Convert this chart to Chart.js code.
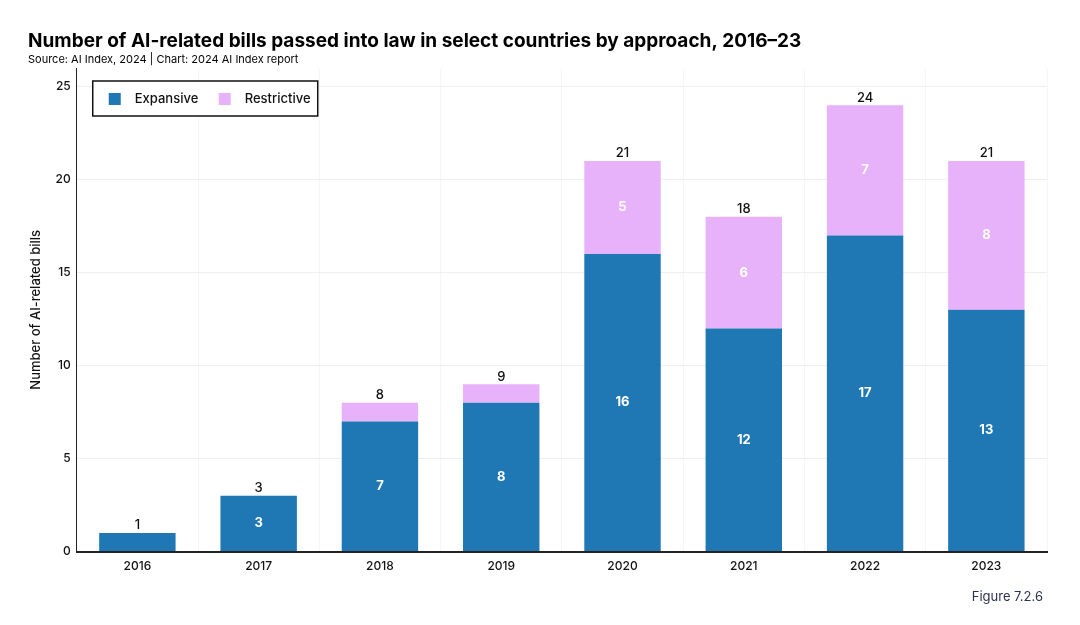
<!DOCTYPE html>
<html>
<head>
<meta charset="utf-8">
<script src="https://cdn.jsdelivr.net/npm/chart.js@4"></script>
<style>
  body { margin: 0; background: #fff; }
  #wrap { width: 1080px; height: 625px; position: relative; }
</style>
</head>
<body>
<div id="wrap"><canvas id="billsChart"></canvas></div>
<script>
const years = ["2016", "2017", "2018", "2019", "2020", "2021", "2022", "2023"];
const expansive = [1, 3, 7, 8, 16, 12, 17, 13];
const restrictive = [0, 0, 1, 1, 5, 6, 7, 8];
const yTicks = [0, 5, 10, 15, 20, 25];

const FONT = "Inter, 'Noto Sans', sans-serif";
const BLUE = "#1f77b4";
const PINK = "#e8b2fb";

// labels inside bars + totals on top
const barLabels = {
  id: 'barLabels',
  afterDatasetsDraw(chart) {
    const ctx = chart.ctx;
    ctx.save();
    ctx.textAlign = 'center';
    ctx.textBaseline = 'middle';
    chart.data.datasets.forEach((ds, i) => {
      chart.getDatasetMeta(i).data.forEach((bar, j) => {
        const v = ds.data[j];
        if (v < 2) return;
        ctx.fillStyle = '#fff';
        ctx.font = "bold 13px " + FONT;
        ctx.fillText(v, bar.x, (bar.y + bar.base) / 2);
      });
    });
    const top = chart.getDatasetMeta(1).data;
    years.forEach((y, j) => {
      const total = expansive[j] + restrictive[j];
      const yPix = chart.scales.y.getPixelForValue(total);
      ctx.fillStyle = '#111';
      ctx.font = "500 13px " + FONT;
      ctx.textBaseline = 'bottom';
      ctx.fillText(total, top[j].x, yPix - 1);
    });
    ctx.restore();
  }
};

// boxed legend and figure note
const boxLegend = {
  id: 'boxLegend',
  afterDraw(chart) {
    const ctx = chart.ctx;
    const a = chart.chartArea;
    const x = a.left + 16, y = a.top + 13;
    ctx.save();
    ctx.fillStyle = '#fff';
    ctx.fillRect(x, y, 225, 35);
    ctx.strokeStyle = '#111';
    ctx.lineWidth = 1.5;
    ctx.strokeRect(x, y, 225, 35);
    ctx.font = "500 13px " + FONT;
    ctx.textBaseline = 'middle';
    ctx.fillStyle = BLUE;
    ctx.fillRect(x + 16, y + 12, 12, 12);
    ctx.fillStyle = '#111';
    ctx.fillText("Expansive", x + 42, y + 18);
    ctx.fillStyle = PINK;
    ctx.fillRect(x + 126, y + 12, 12, 12);
    ctx.fillStyle = '#111';
    ctx.fillText("Restrictive", x + 152, y + 18);

    ctx.fillStyle = '#2a3350';
    ctx.font = "13px " + FONT;
    ctx.textAlign = 'right';
    ctx.fillText("Figure 7.2.6", 1043, 597);
    ctx.restore();
  }
};

new Chart(document.getElementById("billsChart"), {
  type: 'bar',
  data: {
    labels: years,
    datasets: [
      { label: "Expansive", data: expansive, backgroundColor: BLUE },
      { label: "Restrictive", data: restrictive, backgroundColor: PINK }
    ]
  },
  options: {
    responsive: true,
    maintainAspectRatio: false,
    animation: false,
    barPercentage: 0.63,
    categoryPercentage: 1,
    layout: { padding: { left: 28, right: 33, top: 18, bottom: 43 } },
    plugins: {
      legend: { display: false },
      tooltip: { enabled: false },
      title: {
        display: true,
        align: 'start',
        text: "Number of AI-related bills passed into law in select countries by approach, 2016–23",
        color: '#000',
        font: { family: FONT, size: 19, weight: 'bold' },
        padding: { top: 12, bottom: 0 }
      },
      subtitle: {
        display: true,
        align: 'start',
        text: "Source: AI Index, 2024 | Chart: 2024 AI Index report",
        color: '#000',
        font: { family: FONT, size: 11 },
        padding: { top: 0, bottom: 2 }
      }
    },
    scales: {
      x: {
        stacked: true,
        grid: { color: '#f6f6f6', drawTicks: false },
        border: { color: '#222', width: 2 },
        ticks: { color: '#111', font: { family: FONT, size: 12, weight: 500 }, padding: 8 }
      },
      y: {
        stacked: true,
        min: 0,
        max: 26,
        afterBuildTicks: axis => { axis.ticks = yTicks.map(v => ({ value: v })); },
        grid: { color: '#eeeeee', drawTicks: false },
        border: { color: '#222', width: 1 },
        ticks: { color: '#111', font: { family: FONT, size: 12, weight: 500 }, padding: 6 },
        title: {
          display: true,
          text: "Number of AI-related bills",
          color: '#111',
          font: { family: FONT, size: 13, weight: 500 },
          padding: { top: 0, bottom: 6 }
        }
      }
    }
  },
  plugins: [barLabels, boxLegend]
});
</script>
</body>
</html>
